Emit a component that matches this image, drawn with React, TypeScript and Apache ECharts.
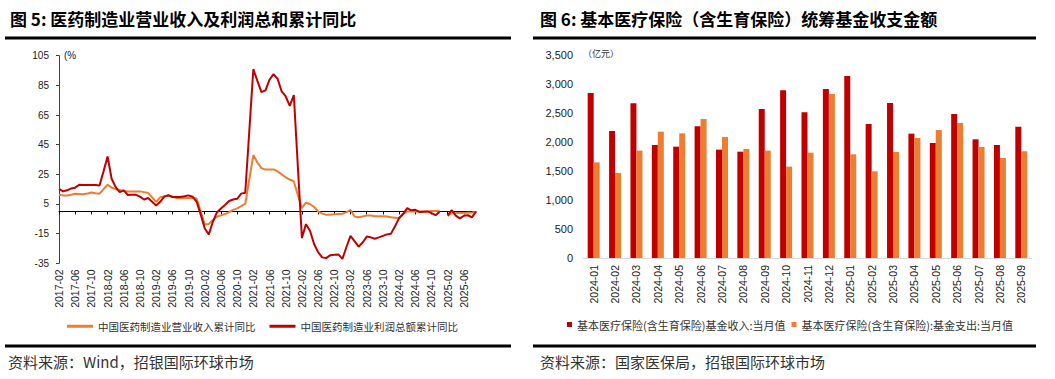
import React, { useEffect, useRef } from 'react';
import * as echarts from 'echarts';

// ---------- Left chart data (monthly, 2017-02 .. 2025-09) ----------
const lineMonths: string[] = [];
for (let y = 2017; y <= 2025; y++) {
  for (let m = 1; m <= 12; m++) {
    if (y === 2017 && m < 2) continue;
    if (y === 2025 && m > 9) continue;
    lineMonths.push(`${y}-${m < 10 ? '0' + m : m}`);
  }
}

const revenueYoY: (number | null)[] = [
  11.2, 10.8, 10.7, 11.2, 11.9, 11.8, 11.5, 12.0, 12.8, 12.2, 11.9,
  15.0, 18.0, 16.0, 15.0, 14.5, 13.8, 13.5, 13.5, 13.5, 13.5, 13.0, 12.5,
  9.5, 6.5, 9.5, 10.0, 10.5, 10.0, 9.0, 8.8, 9.0, 9.2, 9.0, 8.7,
  0.0, -8.8, -8.5, -5.8, -3.6, -2.7, -1.8, -0.5, 1.0, 2.0, 3.5, 5.0,
  21.5, 38.0, 33.0, 29.2, 28.2, 28.2, 28.3, 27.0, 25.0, 23.0, 21.5, 20.2,
  11.0, 2.2, 6.0, 4.8, 3.0, 0.0, -1.5, -2.2, -2.2, -2.0, -1.8, -1.6,
  -0.5, 1.0, -3.5, -4.0, -3.5, -2.8, -2.8, -3.2, -3.2, -3.2, -3.5, -4.0,
  -4.3, -4.7, -1.6, 0.0, 0.0, 0.0, 0.0, 0.0, 0.0, 0.2, 0.3, 0.4,
  null, -3.0, -1.2, -1.1, -1.1, -1.0, -0.9, -0.8, -0.4,
];

const profitYoY: (number | null)[] = [
  15.3, 13.5, 14.2, 15.5, 16.0, 18.0, 17.8, 17.8, 17.8, 17.8, 17.5,
  27.0, 37.0, 22.0, 16.4, 13.0, 14.2, 11.0, 11.2, 11.2, 10.0, 8.0, 9.0,
  6.5, 4.0, 6.5, 10.0, 11.0, 9.7, 9.7, 9.7, 10.2, 10.8, 9.9, 6.5,
  -2.0, -11.5, -15.5, -7.0, -0.7, 2.0, 4.3, 7.0, 8.0, 8.5, 12.0, 12.6,
  54.0, 96.0, 88.0, 80.4, 81.6, 88.8, 92.6, 89.4, 80.9, 77.5, 71.2, 78.4,
  30.0, -18.0, -8.6, -13.0, -22.0, -27.5, -31.0, -31.5, -29.5, -29.3, -29.0, -32.0,
  -24.0, -16.5, -20.0, -23.8, -21.0, -17.0, -17.5, -18.4, -17.5, -16.5, -15.5, -15.0,
  -10.0, -4.5, -1.8, 2.2, 0.7, 1.1, -0.4, -0.2, 0.0, -1.1, -2.5, -0.4,
  null, -2.8, 0.9, -2.9, -4.7, -3.0, -2.6, -4.0, -0.2,
];

const leftYTicks = { min: -35, max: 105, interval: 20 };

// ---------- Right chart data ----------
const fundMonths: string[] = [
  '2024-01', '2024-02', '2024-03', '2024-04', '2024-05', '2024-06', '2024-07',
  '2024-08', '2024-09', '2024-10', '2024-11', '2024-12', '2025-01', '2025-02',
  '2025-03', '2025-04', '2025-05', '2025-06', '2025-07', '2025-08', '2025-09',
];
const fundIncome: number[] = [
  2845, 2190, 2667, 1948, 1920, 2270, 1868, 1833, 2569, 2891, 2511,
  2914, 3138, 2310, 2672, 2144, 1983, 2483, 2046, 1948, 2264,
];
const fundExpense: number[] = [
  1649, 1466, 1851, 2178, 2149, 2397, 2086, 1879, 1851, 1575, 1816,
  2828, 1787, 1494, 1828, 2069, 2207, 2328, 1914, 1724, 1839,
];
const rightYTicks = { min: 0, max: 3500, interval: 500 };

const NAME_REV = '中国医药制造业营业收入累计同比';
const NAME_PROFIT = '中国医药制造业利润总额累计同比';
const NAME_INC = '基本医疗保险(含生育保险)基金收入:当月值';
const NAME_EXP = '基本医疗保险(含生育保险):基金支出:当月值';

const ORANGE = '#ED7D31';
const RED = '#C00000';
const CJK = '"Noto Sans CJK SC", sans-serif';
const LATIN = '"Liberation Sans", Arial, sans-serif';

export default function App() {
  const ref = useRef<HTMLDivElement>(null);

  useEffect(() => {
    if (!ref.current) return;
    const chart = echarts.init(ref.current, undefined, { renderer: 'svg' });

    const option: any = {
      animation: false,
      backgroundColor: '#ffffff',
      textStyle: { fontFamily: LATIN },
      grid: [
        { left: 59, top: 55.7, width: 417, height: 207.6, containLabel: false },
        { left: 583, top: 55, width: 449, height: 203, containLabel: false },
      ],
      legend: [
        {
          data: [NAME_REV, NAME_PROFIT],
          left: 67,
          top: 321,
          icon: 'rect',
          itemWidth: 26,
          itemHeight: 3,
          itemGap: 14,
          textStyle: { fontFamily: CJK, fontSize: 10.5, color: '#333' },
          padding: 0,
        },
        {
          data: [NAME_INC, NAME_EXP],
          left: 567,
          top: 319,
          icon: 'rect',
          itemWidth: 5,
          itemHeight: 5,
          itemGap: 6,
          textStyle: { fontFamily: CJK, fontSize: 11, color: '#333' },
          padding: 0,
        },
      ],
      xAxis: [
        {
          type: 'category',
          gridIndex: 0,
          data: lineMonths,
          boundaryGap: false,
          axisLine: { show: true, onZero: true, lineStyle: { color: '#000', width: 1 } },
          axisTick: { show: true, interval: 3, length: 3, lineStyle: { color: '#000' } },
          axisLabel: { show: false },
          splitLine: { show: false },
        },
        {
          type: 'category',
          gridIndex: 0,
          position: 'bottom',
          data: lineMonths,
          boundaryGap: false,
          axisLine: { show: false, onZero: false },
          axisTick: { show: false },
          axisLabel: {
            show: true,
            interval: 3,
            rotate: 90,
            margin: 6,
            fontSize: 10.5,
            color: '#222',
            fontFamily: LATIN,
          },
          splitLine: { show: false },
        },
        {
          type: 'category',
          gridIndex: 1,
          data: fundMonths,
          axisLine: { show: true, lineStyle: { color: '#d9d9d9', width: 1 } },
          axisTick: { show: false },
          axisLabel: {
            interval: 0,
            rotate: 90,
            margin: 7,
            fontSize: 10.5,
            color: '#222',
            fontFamily: LATIN,
          },
        },
      ],
      yAxis: [
        {
          type: 'value',
          gridIndex: 0,
          min: leftYTicks.min,
          max: leftYTicks.max,
          interval: leftYTicks.interval,
          axisLine: { show: true, lineStyle: { color: '#404040' } },
          axisTick: { show: true, length: 3, lineStyle: { color: '#404040' } },
          axisLabel: { fontSize: 10, color: '#222', margin: 10, fontFamily: LATIN },
          splitLine: { show: false },
        },
        {
          type: 'value',
          gridIndex: 1,
          min: rightYTicks.min,
          max: rightYTicks.max,
          interval: rightYTicks.interval,
          axisLine: { show: false },
          axisTick: { show: false },
          axisLabel: {
            fontSize: 11,
            color: '#222',
            margin: 10,
            fontFamily: LATIN,
            formatter: (v: number) => v.toLocaleString('en-US'),
          },
          splitLine: { show: false },
        },
      ],
      series: [
        {
          name: NAME_REV,
          type: 'line',
          xAxisIndex: 0,
          yAxisIndex: 0,
          data: revenueYoY,
          showSymbol: false,
          symbol: 'none',
          connectNulls: false,
          lineStyle: { color: ORANGE, width: 2 },
          itemStyle: { color: ORANGE },
        },
        {
          name: NAME_PROFIT,
          type: 'line',
          xAxisIndex: 0,
          yAxisIndex: 0,
          data: profitYoY,
          showSymbol: false,
          symbol: 'none',
          connectNulls: false,
          lineStyle: { color: RED, width: 2 },
          itemStyle: { color: RED },
        },
        {
          name: NAME_INC,
          type: 'bar',
          xAxisIndex: 2,
          yAxisIndex: 1,
          data: fundIncome,
          barWidth: 6,
          barGap: '0%',
          itemStyle: { color: RED },
        },
        {
          name: NAME_EXP,
          type: 'bar',
          xAxisIndex: 2,
          yAxisIndex: 1,
          data: fundExpense,
          barWidth: 6,
          barGap: '0%',
          itemStyle: { color: ORANGE },
        },
      ],
      graphic: [
        {
          type: 'text',
          left: 10,
          top: 10,
          style: {
            text: '图 5: 医药制造业营业收入及利润总和累计同比',
            fontFamily: CJK,
            fontWeight: 'bold',
            fontSize: 17,
            fill: '#000',
          },
        },
        {
          type: 'text',
          left: 540,
          top: 10,
          style: {
            text: '图 6: 基本医疗保险（含生育保险）统筹基金收支金额',
            fontFamily: CJK,
            fontWeight: 'bold',
            fontSize: 17,
            fill: '#000',
          },
        },
        { type: 'rect', shape: { x: 5, y: 36.5, width: 506, height: 3 }, style: { fill: '#000' } },
        { type: 'rect', shape: { x: 533, y: 36.5, width: 503, height: 3 }, style: { fill: '#000' } },
        { type: 'rect', shape: { x: 5, y: 344.5, width: 506, height: 3 }, style: { fill: '#000' } },
        { type: 'rect', shape: { x: 533, y: 344.5, width: 503, height: 3 }, style: { fill: '#000' } },
        {
          type: 'text',
          left: 64,
          top: 50,
          style: { text: '(%', fontFamily: LATIN, fontSize: 10, fill: '#222' },
        },
        {
          type: 'text',
          left: 583,
          top: 49,
          style: { text: '（亿元）', fontFamily: CJK, fontSize: 9, fill: '#333' },
        },
        {
          type: 'text',
          left: 8,
          top: 354,
          style: { text: '资料来源：Wind，招银国际环球市场', fontFamily: CJK, fontSize: 15, fill: '#333' },
        },
        {
          type: 'text',
          left: 540,
          top: 354,
          style: { text: '资料来源：国家医保局，招银国际环球市场', fontFamily: CJK, fontSize: 15, fill: '#333' },
        },
      ],
    };

    chart.setOption(option);
    return () => chart.dispose();
  }, []);

  return (
    <div
      ref={ref}
      style={{ position: 'fixed', left: 0, top: 0, width: 1055, height: 379, background: '#fff' }}
    />
  );
}
